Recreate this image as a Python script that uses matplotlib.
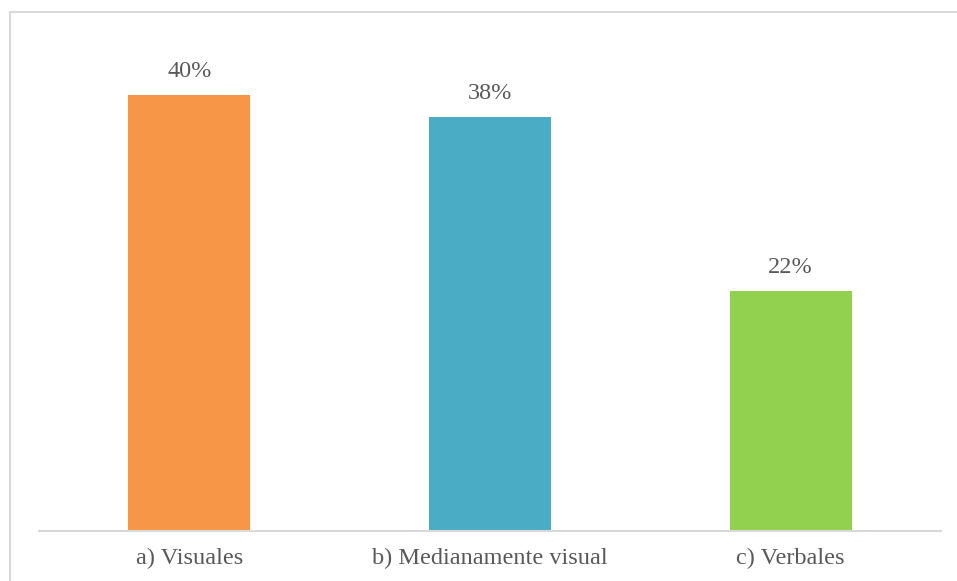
import matplotlib
matplotlib.use("Agg")
import matplotlib.pyplot as plt
from matplotlib.patches import Rectangle

categories = ["a) Visuales", "b) Medianamente visual", "c) Verbales"]
values = [40, 38, 22]
colors = ["#F79646", "#4BACC6", "#92D050"]

TEXT = "#595959"
GRID = "#d9d9d9"

plt.rcParams["font.family"] = ["Liberation Serif", "DejaVu Serif"]

fig = plt.figure(figsize=(9.57, 5.81), dpi=100)
W, H = 957, 581

# chart frame: only the left and top edges fall inside the image
fig.patches.append(Rectangle((9.5 / W, -0.1), 1.2, (581 - 12) / H + 0.1,
                             transform=fig.transFigure, fill=False,
                             edgecolor=GRID, linewidth=1.5))

ax = fig.add_axes([39 / W, (H - 531) / H, 902 / W, (531 - 40) / H])
x = range(len(categories))
bars = ax.bar(x, values, width=0.405, color=colors, zorder=2)
ax.set_xlim(-0.5, len(categories) - 0.5)
ax.set_ylim(0, (531 - 40) / 10.9)

for rect, v in zip(bars, values):
    ax.annotate(f"{v}%", (rect.get_x() + rect.get_width() / 2, v),
                xytext=(0, 9.5), textcoords="offset points",
                ha="center", va="bottom", fontsize=17.5, color=TEXT)

for side in ["left", "right", "top"]:
    ax.spines[side].set_visible(False)
ax.spines["bottom"].set_color(GRID)
ax.spines["bottom"].set_linewidth(1.5)
ax.spines["bottom"].set_zorder(3)
ax.set_yticks([])
ax.set_xticks(list(x))
ax.set_xticklabels(categories, fontsize=17.5, color=TEXT)
ax.tick_params(axis="x", length=0, pad=12.5)

fig.savefig("out.png", dpi=100, facecolor="white")
